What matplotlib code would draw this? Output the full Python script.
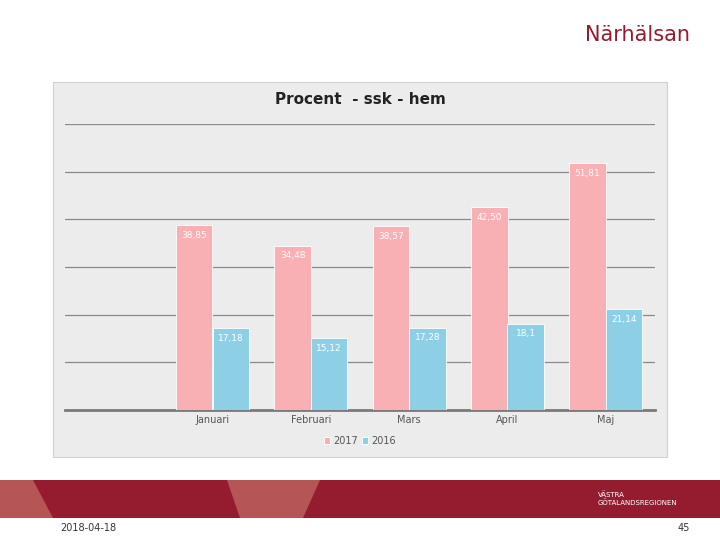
import matplotlib.pyplot as plt
import numpy as np
from matplotlib.patches import Rectangle, Polygon

# Data
months = ["", "Januari", "Februari", "Mars", "April", "Maj"]
share_2017 = [np.nan, 38.85, 34.48, 38.57, 42.50, 51.81]
share_2016 = [np.nan, 17.18, 15.12, 17.28, 18.1, 21.14]
labels_2017 = ["", "38,85", "34,48", "38,57", "42,50", "51,81"]
labels_2016 = ["", "17,18", "15,12", "17,28", "18,1", "21,14"]

W, H = 720, 540
fig = plt.figure(figsize=(7.2, 5.4), dpi=100)
fig.patch.set_facecolor("white")

def fx(px):
    return px / W

def fy(py):
    return 1 - py / H

# Chart frame
fig.patches.append(Rectangle((fx(53), fy(457)), fx(614), 375 / H, transform=fig.transFigure,
                             facecolor="#ececec", edgecolor="#d0d0d0", lw=0.8, zorder=-5))

# Footer band
fig.patches.append(Rectangle((0, fy(518)), 1, 38 / H, transform=fig.transFigure,
                             facecolor="#951b2f", edgecolor="none", zorder=-5))
fig.patches.append(Polygon([(0, fy(518)), (fx(53), fy(518)), (fx(33), fy(480)), (0, fy(480))],
                           closed=True, transform=fig.transFigure, facecolor="#b55555",
                           edgecolor="none", zorder=-4))
fig.patches.append(Polygon([(fx(227), fy(480)), (fx(320), fy(480)), (fx(303), fy(518)), (fx(240), fy(518))],
                           closed=True, transform=fig.transFigure, facecolor="#b55555",
                           edgecolor="none", zorder=-4))

ax = fig.add_axes([fx(65), fy(410), fx(590), 286 / H])
ax.set_facecolor("none")
ax.set_zorder(2)
x = np.arange(len(months))
bw = 0.37
c17, c16 = "#f8b0b5", "#8dd0e6"
b1 = ax.bar(x - bw / 2, share_2017, bw, color=c17, edgecolor="white", lw=0.6, label="2017", zorder=3)
b2 = ax.bar(x + bw / 2, share_2016, bw, color=c16, edgecolor="white", lw=0.6, label="2016", zorder=3)
for i in range(1, len(months)):
    ax.text(x[i] - bw / 2, share_2017[i] - 1.2, labels_2017[i], ha="center", va="top",
            fontsize=6.5, color="white", zorder=4)
    ax.text(x[i] + bw / 2, share_2016[i] - 1.2, labels_2016[i], ha="center", va="top",
            fontsize=6.5, color="white", zorder=4)

ax.set_xlim(-0.5, 5.5)
ax.set_ylim(0, 60)
ax.set_yticks(np.arange(10, 61, 10))
ax.yaxis.grid(True, color="#8a8a8a", lw=0.9, zorder=0)
ax.set_yticklabels([])
ax.tick_params(length=0)
ax.set_xticks(x[1:])
ax.set_xticklabels(months[1:], fontsize=7, color="#555555")
for s in ["top", "right", "left"]:
    ax.spines[s].set_visible(False)
ax.spines["bottom"].set_color("#7a7a7a")
ax.spines["bottom"].set_linewidth(2)

fig.legend(handles=[b1, b2], loc="center", bbox_to_anchor=(fx(360), fy(441)), ncol=2,
           frameon=False, fontsize=7, handlelength=0.6, handleheight=0.6, columnspacing=0.5,
           handletextpad=0.3, labelcolor="#555555")

fig.text(fx(360), fy(100), "Procent  - ssk - hem", ha="center", va="center",
         fontsize=11, fontweight="bold", color="#222222")
fig.text(fx(690), fy(35), "Närhälsan", ha="right", va="center", fontsize=15, color="#951b2f")
fig.text(fx(598), fy(499), "VÄSTRA\nGÖTALANDSREGIONEN", ha="left", va="center",
         fontsize=5, color="white", linespacing=1.2)
fig.text(fx(60), fy(528), "2018-04-18", ha="left", va="center", fontsize=7, color="#333333")
fig.text(fx(690), fy(528), "45", ha="right", va="center", fontsize=7, color="#333333")

fig.savefig("out.png", dpi=100)
